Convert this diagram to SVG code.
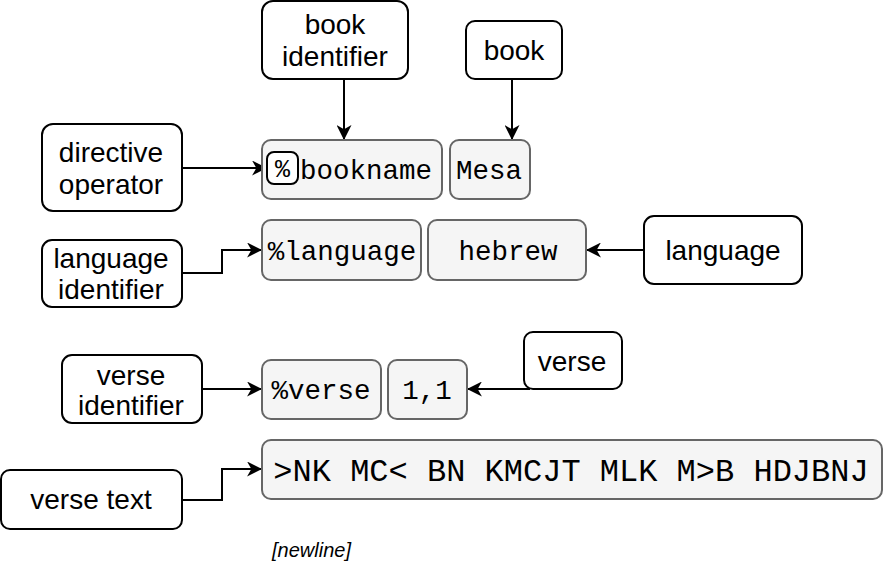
<svg xmlns="http://www.w3.org/2000/svg" width="883" height="572" viewBox="0 0 883 572">
<style>
.n{fill:#fff;stroke:#000;stroke-width:2}
.g{fill:#f5f5f5;stroke:#666;stroke-width:2}
.t{font-family:"Liberation Sans",Arial,sans-serif;font-size:28px;fill:#000;text-anchor:middle}
.m{font-family:"Liberation Mono","Courier New",monospace;font-size:27.5px;fill:#000;text-anchor:middle}
.c{fill:none;stroke:#000;stroke-width:2}
</style>
<defs>
<marker id="a" viewBox="0 0 14 14" refX="13" refY="7" markerWidth="15" markerHeight="15" markerUnits="userSpaceOnUse" orient="auto">
<path d="M0,0 L14,7 L0,14 L4,7 Z" fill="#000"/>
</marker>
</defs>
<rect width="883" height="572" fill="#fff"/>
<g id="connectors">
<path class="c" d="M344,79 V139" marker-end="url(#a)"/>
<path class="c" d="M512,79 V139" marker-end="url(#a)"/>
<path class="c" d="M182,168 H266" marker-end="url(#a)"/>
<path class="c" d="M182,273 H222 V250 H261" marker-end="url(#a)"/>
<path class="c" d="M644,250 H587" marker-end="url(#a)"/>
<path class="c" d="M530,389 H468" marker-end="url(#a)"/>
<path class="c" d="M202,389 H261" marker-end="url(#a)"/>
<path class="c" d="M182,500 H222 V469 H261" marker-end="url(#a)"/>
</g>
<g id="book-identifier"><rect class="n" x="262" y="1" width="146" height="78" rx="11"/><text class="t" x="335" y="34">book</text><text class="t" x="335" y="66">identifier</text></g>
<g id="book"><rect class="n" x="466" y="21" width="96" height="58" rx="9"/><text class="t" x="514" y="60">book</text></g>
<g id="directive-operator"><rect class="n" x="42" y="124" width="140" height="87" rx="11"/><text class="t" x="111" y="162">directive</text><text class="t" x="111" y="194">operator</text></g>
<g id="language-identifier"><rect class="n" x="42" y="240" width="140" height="67" rx="10"/><text class="t" x="111" y="268">language</text><text class="t" x="111" y="299">identifier</text></g>
<g id="language"><rect class="n" x="644" y="216" width="158" height="68" rx="10"/><text class="t" x="723" y="260">language</text></g>
<g id="verse"><rect class="n" x="524" y="332" width="98" height="57" rx="9"/><text class="t" x="572" y="371">verse</text></g>
<g id="verse-identifier"><rect class="n" x="62" y="355" width="140" height="68" rx="10"/><text class="t" x="131" y="385">verse</text><text class="t" x="131" y="415">identifier</text></g>
<g id="verse-text"><rect class="n" x="1" y="470" width="181" height="59" rx="9"/><text class="t" x="91" y="509">verse text</text></g>
<g id="bookname"><rect class="g" x="262" y="140" width="180" height="59" rx="9"/><text class="m" x="366" y="179">bookname</text></g>
<g id="percent"><rect class="n" x="267" y="152" width="31" height="32" rx="7"/><text class="m" x="282.5" y="177" style="font-size:25px">%</text></g>
<g id="mesa"><rect class="g" x="450" y="140" width="80" height="59" rx="9"/><text class="m" x="489" y="179">Mesa</text></g>
<g id="pct-language"><rect class="g" x="262" y="220" width="159" height="60" rx="9"/><text class="m" x="342" y="260">%language</text></g>
<g id="hebrew"><rect class="g" x="428" y="220" width="158" height="60" rx="9"/><text class="m" x="508" y="260">hebrew</text></g>
<g id="pct-verse"><rect class="g" x="262" y="360" width="119" height="59" rx="9"/><text class="m" x="321" y="399">%verse</text></g>
<g id="v11"><rect class="g" x="388" y="360" width="79" height="59" rx="9"/><text class="m" x="427" y="399">1,1</text></g>
<g id="verse-content"><rect class="g" x="262" y="440" width="620" height="59" rx="9"/><text class="m" x="571" y="481" style="font-size:32px">&gt;NK MC&lt; BN KMCJT MLK M&gt;B HDJBNJ</text></g>
<text x="272" y="557" style="font-family:'Liberation Sans',Arial,sans-serif;font-size:20px;font-style:italic">[newline]</text>
</svg>
